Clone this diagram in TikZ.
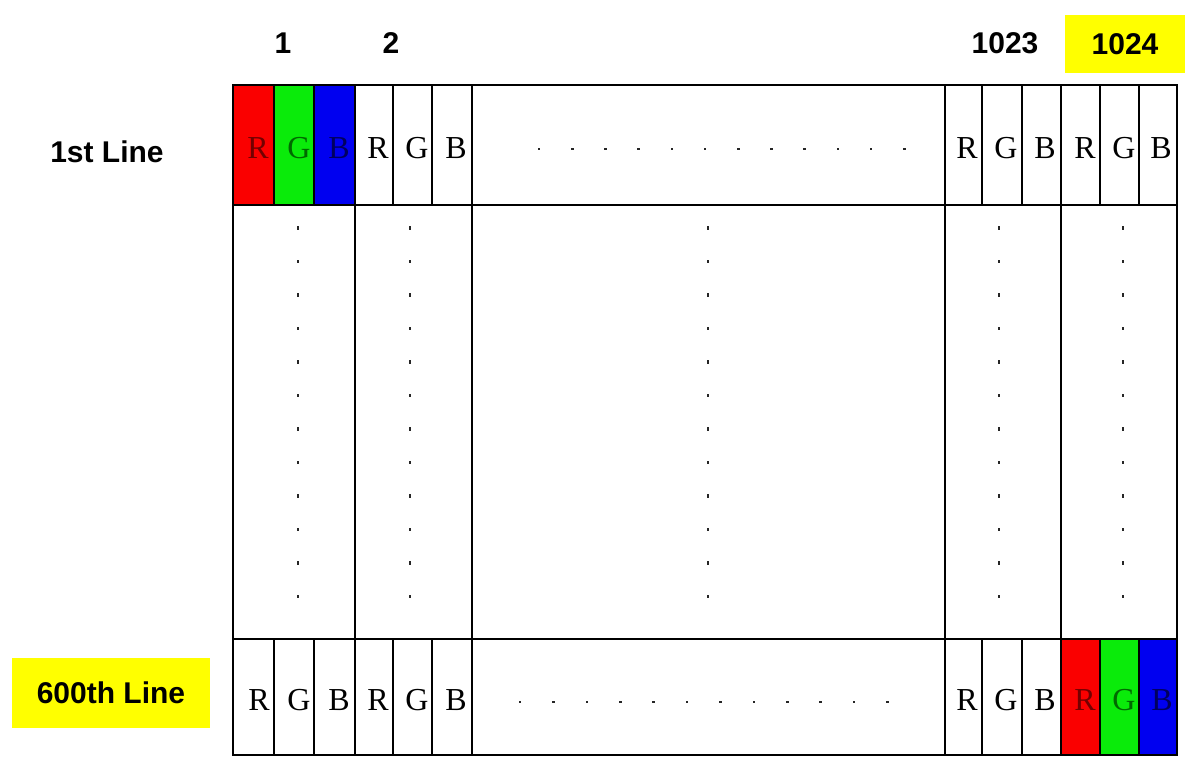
\documentclass[tikz,border=0pt]{standalone}
\usepackage{fontspec}
\setmainfont{Liberation Serif}
\newfontfamily\labelfont{Liberation Sans}
\definecolor{cR}{RGB}{250,0,0}
\definecolor{cG}{RGB}{10,235,10}
\definecolor{cB}{RGB}{0,0,240}
\definecolor{dR}{RGB}{115,0,0}
\definecolor{dG}{RGB}{0,105,0}
\definecolor{dB}{RGB}{0,0,95}
\definecolor{hl}{RGB}{255,255,0}
\begin{document}
\begin{tikzpicture}[x=1pt,y=-1pt,
  gridline/.style={draw=black,line width=1.6pt},
  letter/.style={font=\fontsize{32}{32}\selectfont, inner sep=0pt, anchor=center},
  lbl/.style={font=\labelfont\bfseries\fontsize{30}{30}\selectfont, inner sep=0pt},
  dotmark/.style={fill=black!85}]
\useasboundingbox (0,0) rectangle (1191,765);

% coloured cells
\fill[cR] (233,85) rectangle (274,205);
\fill[cG] (274,85) rectangle (314,205);
\fill[cB] (314,85) rectangle (355,205);
\fill[cR] (1061,639) rectangle (1100,755);
\fill[cG] (1100,639) rectangle (1139,755);
\fill[cB] (1139,639) rectangle (1177,755);

% grid
\draw[gridline] (233,85) rectangle (1177,755);
\draw[gridline] (233,205) -- (1177,205);
\draw[gridline] (233,639) -- (1177,639);
\foreach \x in {355,472,945,1061}
  \draw[gridline] (\x,85) -- (\x,755);
\foreach \x in {274,314,393,432,982,1022,1100,1139} {
  \draw[gridline] (\x,85) -- (\x,205);
  \draw[gridline] (\x,639) -- (\x,755);
}

% letters, top row
\node[letter,text=dR] (t1r) at (258,148) {R};
\node[letter,text=dG] (t1g) at (299,148) {G};
\node[letter,text=dB] (t1b) at (339,148) {B};
\node[letter] (t2r) at (378,148) {R};
\node[letter] (t2g) at (417,148) {G};
\node[letter] (t2b) at (456,148) {B};
\node[letter] (t3r) at (967,148) {R};
\node[letter] (t3g) at (1006,148) {G};
\node[letter] (t3b) at (1045,148) {B};
\node[letter] (t4r) at (1085,148) {R};
\node[letter] (t4g) at (1124,148) {G};
\node[letter] (t4b) at (1161,148) {B};

% letters, bottom row
\node[letter] (b1r) at (259,700) {R};
\node[letter] (b1g) at (299,700) {G};
\node[letter] (b1b) at (339,700) {B};
\node[letter] (b2r) at (378,700) {R};
\node[letter] (b2g) at (417,700) {G};
\node[letter] (b2b) at (456,700) {B};
\node[letter] (b3r) at (967,700) {R};
\node[letter] (b3g) at (1006,700) {G};
\node[letter] (b3b) at (1045,700) {B};
\node[letter,text=dR] (b4r) at (1085,700) {R};
\node[letter,text=dG] (b4g) at (1124,700) {G};
\node[letter,text=dB] (b4b) at (1162,700) {B};

% dotted rows
\foreach \i in {0,...,11} {
  \fill[dotmark] ({539+33.2*\i-1.3},147.8) rectangle ++(2.6,2.4);
  \fill[dotmark] ({520+33.4*\i-1.3},700.8) rectangle ++(2.6,2.4);
}
% dotted columns
\foreach \x in {298,410,708,999,1123}
  \foreach \i in {0,...,11}
    \fill[dotmark] (\x-1.2,{228+33.5*\i-1.6}) rectangle ++(2.4,3.2);

% labels
\node[lbl] (n1) at (283,43) {1};
\node[lbl] (n2) at (391,43) {2};
\node[lbl] (n1023) at (1005,43) {1023};
\node[lbl,fill=hl,minimum width=120pt,minimum height=58pt] (n1024) at (1125,44) {1024};
\node[lbl] (l1) at (107,152) {1st Line};
\node[lbl,fill=hl,minimum width=198pt,minimum height=70pt] (l600) at (111,693) {600th Line};
\end{tikzpicture}
\end{document}
